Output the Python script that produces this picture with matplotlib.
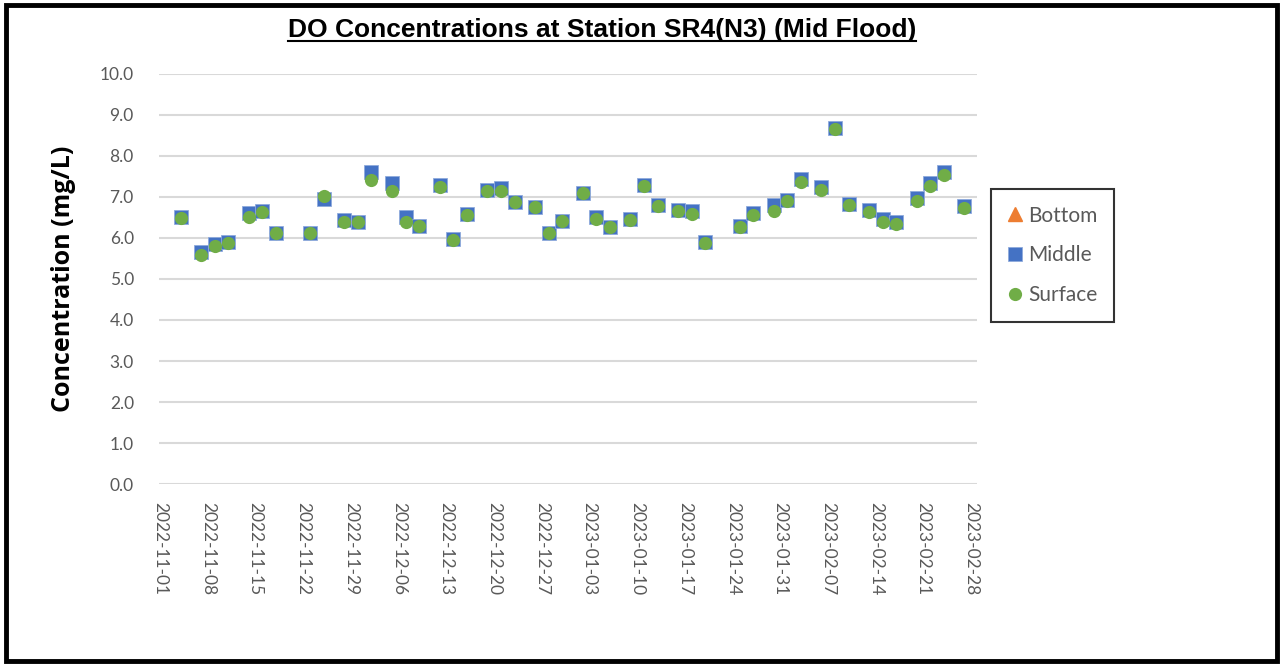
import matplotlib.pyplot as plt
import matplotlib.dates as mdates
from matplotlib.patches import Rectangle
from matplotlib.lines import Line2D
import numpy as np
import datetime as dt

# sampling dates (mid flood)
dates = ["2022-11-04", "2022-11-07", "2022-11-09", "2022-11-11", "2022-11-14", "2022-11-16",
         "2022-11-18", "2022-11-23", "2022-11-25", "2022-11-28", "2022-11-30", "2022-12-02",
         "2022-12-05", "2022-12-07", "2022-12-09", "2022-12-12", "2022-12-14", "2022-12-16",
         "2022-12-19", "2022-12-21", "2022-12-23", "2022-12-26", "2022-12-28", "2022-12-30",
         "2023-01-02", "2023-01-04", "2023-01-06", "2023-01-09", "2023-01-11", "2023-01-13",
         "2023-01-16", "2023-01-18", "2023-01-20", "2023-01-25", "2023-01-27", "2023-01-30",
         "2023-02-01", "2023-02-03", "2023-02-06", "2023-02-08", "2023-02-10", "2023-02-13",
         "2023-02-15", "2023-02-17", "2023-02-20", "2023-02-22", "2023-02-24", "2023-02-27"]

bottom = [np.nan] * len(dates)   # no bottom readings
middle = [6.50, 5.65, 5.85, 5.90, 6.60, 6.65, 6.13, 6.13, 6.94, 6.43, 6.40, 7.60,
          7.34, 6.50, 6.30, 7.28, 5.97, 6.58, 7.17, 7.22, 6.88, 6.76, 6.13, 6.42,
          7.10, 6.52, 6.27, 6.45, 7.28, 6.80, 6.68, 6.65, 5.90, 6.28, 6.60, 6.80,
          6.93, 7.44, 7.23, 8.67, 6.83, 6.67, 6.45, 6.40, 6.98, 7.33, 7.60, 6.78]
surface = [6.49, 5.59, 5.80, 5.88, 6.52, 6.62, 6.12, 6.12, 7.01, 6.40, 6.38, 7.41,
           7.15, 6.38, 6.29, 7.24, 5.95, 6.56, 7.15, 7.15, 6.87, 6.75, 6.11, 6.41,
           7.09, 6.46, 6.26, 6.44, 7.27, 6.77, 6.66, 6.58, 5.87, 6.26, 6.56, 6.66,
           6.90, 7.37, 7.17, 8.65, 6.80, 6.62, 6.38, 6.34, 6.91, 7.26, 7.54, 6.72]

x = [dt.datetime.strptime(d, "%Y-%m-%d") for d in dates]

fig = plt.figure(figsize=(12.81, 6.65), dpi=100)
ax = fig.add_axes([0.124, 0.272, 0.639, 0.617])

ax.plot(x, bottom, linestyle='none', marker='^', color='#ED7D31', markersize=10, label='Bottom')
ax.plot(x, middle, linestyle='none', marker='s', color='#4472C4', markersize=10,
        markeredgecolor='#8FAADC', markeredgewidth=0.6, label='Middle')
ax.plot(x, surface, linestyle='none', marker='o', color='#70AD47', markersize=9.5,
        markeredgewidth=0, label='Surface')

start = dt.datetime(2022, 11, 1)
end = dt.datetime(2023, 2, 28)
ax.set_xlim(start - dt.timedelta(days=0.2), end + dt.timedelta(days=0.9))
ax.set_ylim(0, 10)
ax.set_yticks(np.arange(0, 10.01, 1.0))
ax.yaxis.set_major_formatter(plt.FormatStrFormatter('%.1f'))
ax.set_xticks([start + dt.timedelta(days=7 * i) for i in range(18)])
ax.xaxis.set_major_formatter(mdates.DateFormatter('%Y-%m-%d'))

ax.grid(axis='y', color='#D9D9D9', linewidth=1.5)
ax.set_axisbelow(True)
for s in ax.spines.values():
    s.set_visible(False)
ax.tick_params(axis='both', length=0, colors='#595959', labelsize=12.5)
ax.tick_params(axis='y', pad=18)
ax.tick_params(axis='x', pad=13)
for lab in ax.get_xticklabels():
    lab.set_rotation(270)
    lab.set_fontfamily('Lato')
for lab in ax.get_yticklabels():
    lab.set_fontfamily('Lato')

ax.set_ylabel('Concentration (mg/L)', fontsize=18, fontweight='bold', family='Open Sans', labelpad=17)

leg = ax.legend(loc='center', bbox_to_anchor=(0.8216, 0.616), bbox_transform=fig.transFigure,
                frameon=True, fancybox=False, prop={'family': 'Lato', 'size': 15},
                handlelength=0.7, handletextpad=0.3, labelspacing=0.95, borderpad=0.8)
leg.get_frame().set_edgecolor('black')
leg.get_frame().set_linewidth(1.5)
for t in leg.get_texts():
    t.set_color('#595959')

title = fig.text(0.470, 0.955, 'DO Concentrations at Station SR4(N3) (Mid Flood)',
                 ha='center', va='center', fontsize=19, fontweight='bold',
                 family=['Liberation Sans', 'DejaVu Sans'])

# underline the title
fig.canvas.draw()
bb = title.get_window_extent().transformed(fig.transFigure.inverted())
fig.add_artist(Line2D([bb.x0, bb.x1], [bb.y0 + 0.002, bb.y0 + 0.002],
                      transform=fig.transFigure, color='black', linewidth=1.5))

# outer frame
fig.add_artist(Rectangle((0.005, 0.006), 0.992, 0.987, transform=fig.transFigure,
                         fill=False, edgecolor='black', linewidth=3.5))

fig.savefig('out.png', dpi=100)
